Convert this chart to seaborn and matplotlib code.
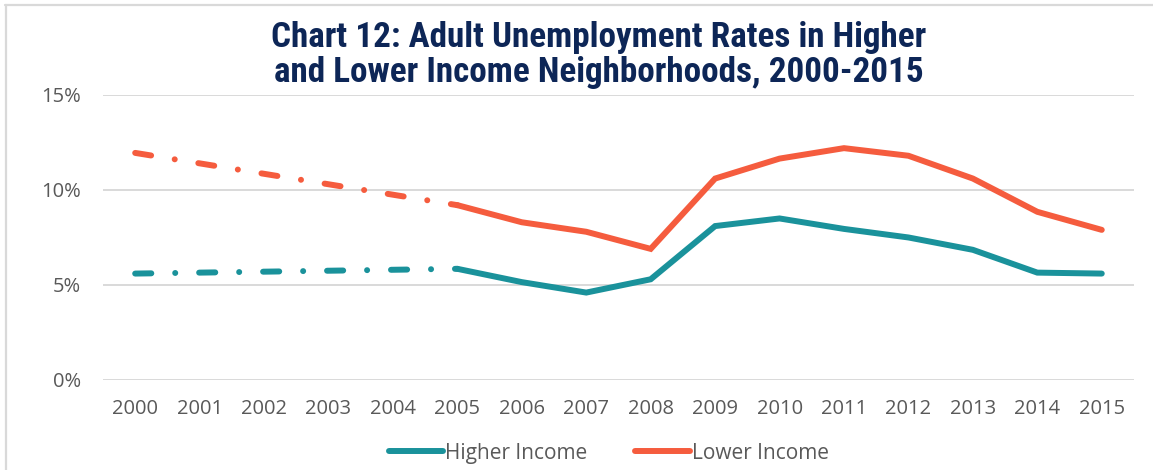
import matplotlib
matplotlib.use("Agg")
import matplotlib.pyplot as plt
import matplotlib.lines as mlines
from matplotlib import font_manager
import seaborn as sns
import pandas as pd

# Unemployment rates (%) by neighborhood income group
years_early = [2000, 2005]
higher_early = [5.6, 5.85]
lower_early = [11.95, 9.2]

years = [2005, 2006, 2007, 2008, 2009, 2010, 2011, 2012, 2013, 2014, 2015]
higher = [5.85, 5.15, 4.6, 5.3, 8.1, 8.5, 7.95, 7.5, 6.85, 5.65, 5.6]
lower = [9.2, 8.3, 7.8, 6.9, 10.6, 11.65, 12.2, 11.8, 10.6, 8.85, 7.9]

year_ticks = list(range(2000, 2016))
pct_ticks = [0, 5, 10, 15]
series_names = ["Higher Income", "Lower Income"]

TEAL = "#1A929B"
ORANGE = "#F55C3E"
GRID = "#D9D9D9"
TEXT = "#595959"
NAVY = "#0D2657"

sns.set_theme(style="white")
plt.rcParams["font.family"] = ["Open Sans", "DejaVu Sans"]

# pick a narrow bold face for the title if one is available
installed = {f.name for f in font_manager.fontManager.ttflist}
title_family = [f for f in ["Roboto Condensed", "Liberation Sans Narrow",
                            "DejaVu Sans Condensed", "Roboto"] if f in installed]
title_family = (title_family or []) + ["DejaVu Sans"]
title_stretch = "condensed"

fig = plt.figure(figsize=(11.53, 4.70), dpi=100)
ax = fig.add_axes([0.0893, 0.1915, 0.8942, 0.6065])

solid = pd.DataFrame({
    "year": years * 2,
    "rate": higher + lower,
    "group": [series_names[0]] * len(years) + [series_names[1]] * len(years),
})
early = pd.DataFrame({
    "year": years_early * 2,
    "rate": higher_early + lower_early,
    "group": [series_names[0]] * 2 + [series_names[1]] * 2,
})
palette = {series_names[0]: TEAL, series_names[1]: ORANGE}

lw = 4.3
sns.lineplot(data=solid, x="year", y="rate", hue="group", palette=palette,
             linewidth=lw, ax=ax, legend=False, sort=True,
             solid_capstyle="round", solid_joinstyle="miter")
sns.lineplot(data=early, x="year", y="rate", hue="group", palette=palette,
             linewidth=lw, ax=ax, legend=False, sort=True,
             dashes=False)
# dash-dot styling for the early segment
for line in ax.lines[-2:]:
    line.set_linestyle((0, (2.7, 4.0, 0.01, 4.0)))
    line.set_dash_capstyle("round")

ax.set_xlim(1999.5, 2015.5)
ax.set_ylim(0, 15)
ax.set_xticks(year_ticks)
ax.set_xticklabels([str(y) for y in year_ticks])
ax.set_yticks(pct_ticks)
ax.set_yticklabels([f"{p}%" for p in pct_ticks])
ax.set_xlabel("")
ax.set_ylabel("")
ax.grid(axis="y", color=GRID, linewidth=1.4)
ax.grid(axis="x", visible=False)
ax.set_axisbelow(True)
for s in ax.spines.values():
    s.set_visible(False)
ax.tick_params(axis="both", length=0, labelsize=14.5, colors=TEXT)
ax.tick_params(axis="y", pad=16)
ax.tick_params(axis="x", pad=14)

fig.text(0.519, 0.883, "Chart 12: Adult Unemployment Rates in Higher\nand Lower Income Neighborhoods, 2000-2015",
         ha="center", va="center", fontsize=25.3, fontweight="bold", color=NAVY,
         family=title_family, fontstretch=title_stretch, linespacing=1.05)

handles = [mlines.Line2D([], [], color=TEAL, linewidth=lw, solid_capstyle="round"),
           mlines.Line2D([], [], color=ORANGE, linewidth=lw, solid_capstyle="round")]
fig.legend(handles, series_names, loc="center", bbox_to_anchor=(0.528, 0.036),
           ncol=2, frameon=False, fontsize=15, handlelength=2.6, handletextpad=0.1,
           columnspacing=2.3, labelcolor=TEXT)

# light frame along the top and left edges
fig.add_artist(mlines.Line2D([5 / 1153, 1], [1 - 5 / 470, 1 - 5 / 470],
                             transform=fig.transFigure, color=GRID, linewidth=1.6))
fig.add_artist(mlines.Line2D([5.5 / 1153, 5.5 / 1153], [0, 1 - 5 / 470],
                             transform=fig.transFigure, color=GRID, linewidth=1.6))

fig.savefig("out.png", dpi=100, facecolor="white")
